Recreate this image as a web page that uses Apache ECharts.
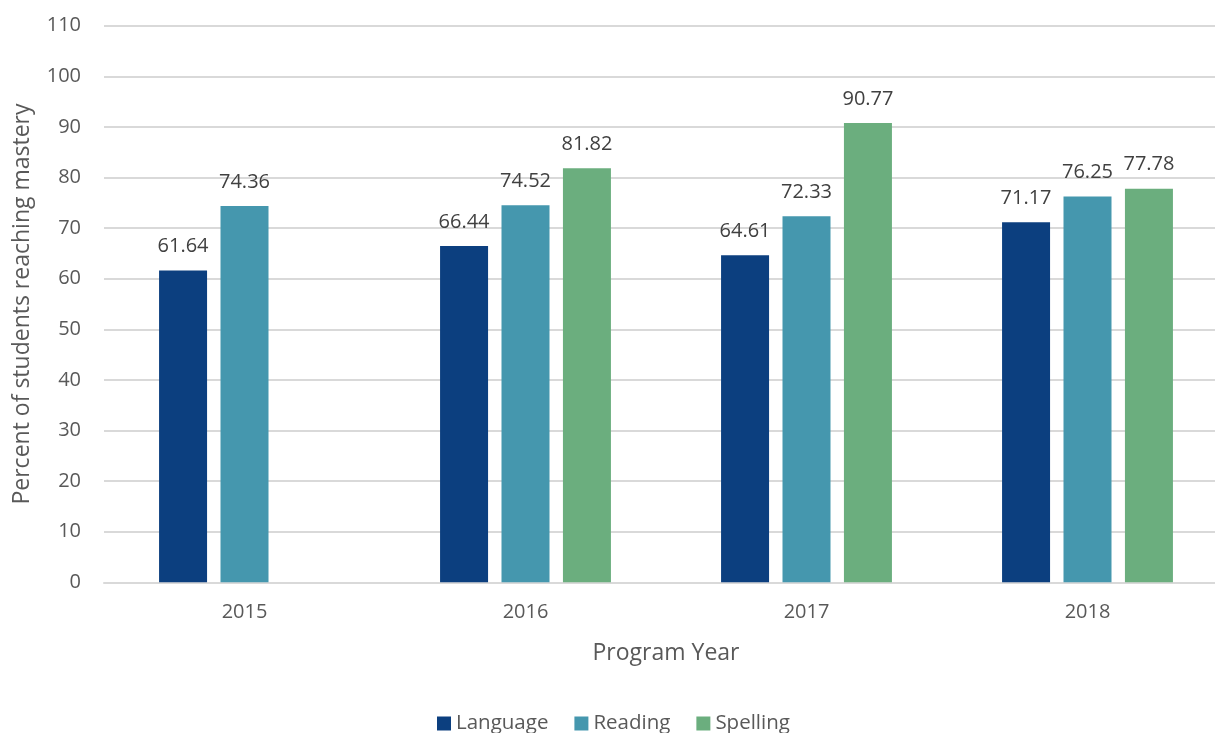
<!DOCTYPE html>
<html>
<head>
<meta charset="utf-8">
<script src="https://cdn.jsdelivr.net/npm/echarts@6/dist/echarts.min.js"></script>
<style>
  html, body { margin: 0; padding: 0; background: #fff; overflow: hidden; }
  #chart { width: 1240px; height: 733px; }
</style>
</head>
<body>
<div id="chart"></div>
<script>
// Program years and mastery percentages per subject
const years = ['2015', '2016', '2017', '2018'];
const language = [61.64, 66.44, 64.61, 71.17];
const reading = [74.36, 74.52, 72.33, 76.25];
const spelling = [null, 81.82, 90.77, 77.78];

const seriesNames = ['Language', 'Reading', 'Spelling'];
const seriesColors = ['#0C3F7F', '#4597AE', '#6BAE7E'];
const seriesData = [language, reading, spelling];

const FONT = '"Open Sans", "Noto Sans", sans-serif';

const chart = echarts.init(document.getElementById('chart'), null, { renderer: 'canvas' });

chart.setOption({
  animation: false,
  backgroundColor: '#ffffff',
  textStyle: { fontFamily: FONT },
  // plot area runs slightly past the right edge of the visible page
  grid: { left: 104, top: 25.7, width: 1124, height: 556.6, containLabel: false },
  legend: {
    data: seriesNames,
    left: 432,
    top: 708,
    itemWidth: 14,
    itemHeight: 14,
    itemGap: 26,
    icon: 'rect',
    textStyle: { fontFamily: FONT, fontSize: 20.5, color: '#595959', padding: [0, 0, 0, 0] }
  },
  xAxis: {
    type: 'category',
    data: years,
    name: 'Program Year',
    nameLocation: 'middle',
    nameGap: 60,
    nameTextStyle: { fontFamily: FONT, fontSize: 23, color: '#595959' },
    axisLine: { show: true, lineStyle: { color: '#D9D9D9', width: 2 } },
    axisTick: { show: false },
    axisLabel: { fontFamily: FONT, fontSize: 20, color: '#595959', margin: 20 }
  },
  yAxis: {
    type: 'value',
    min: 0,
    max: 110,
    interval: 10,
    name: 'Percent of students reaching mastery',
    nameLocation: 'middle',
    nameGap: 70,
    nameTextStyle: { fontFamily: FONT, fontSize: 23, color: '#595959' },
    axisLine: { show: false },
    axisTick: { show: false },
    axisLabel: { fontFamily: FONT, fontSize: 20, color: '#595959', margin: 23 },
    splitLine: { lineStyle: { color: '#D9D9D9', width: 2 } }
  },
  series: seriesNames.map((name, i) => ({
    name: name,
    type: 'bar',
    data: seriesData[i],
    barWidth: 48,
    barGap: '28%',
    itemStyle: { color: seriesColors[i] },
    label: {
      show: true,
      position: 'top',
      distance: 14,
      fontFamily: FONT,
      fontSize: 20,
      color: '#404040',
      formatter: p => (p.value == null ? '' : p.value.toFixed(2))
    }
  }))
});
</script>
</body>
</html>
